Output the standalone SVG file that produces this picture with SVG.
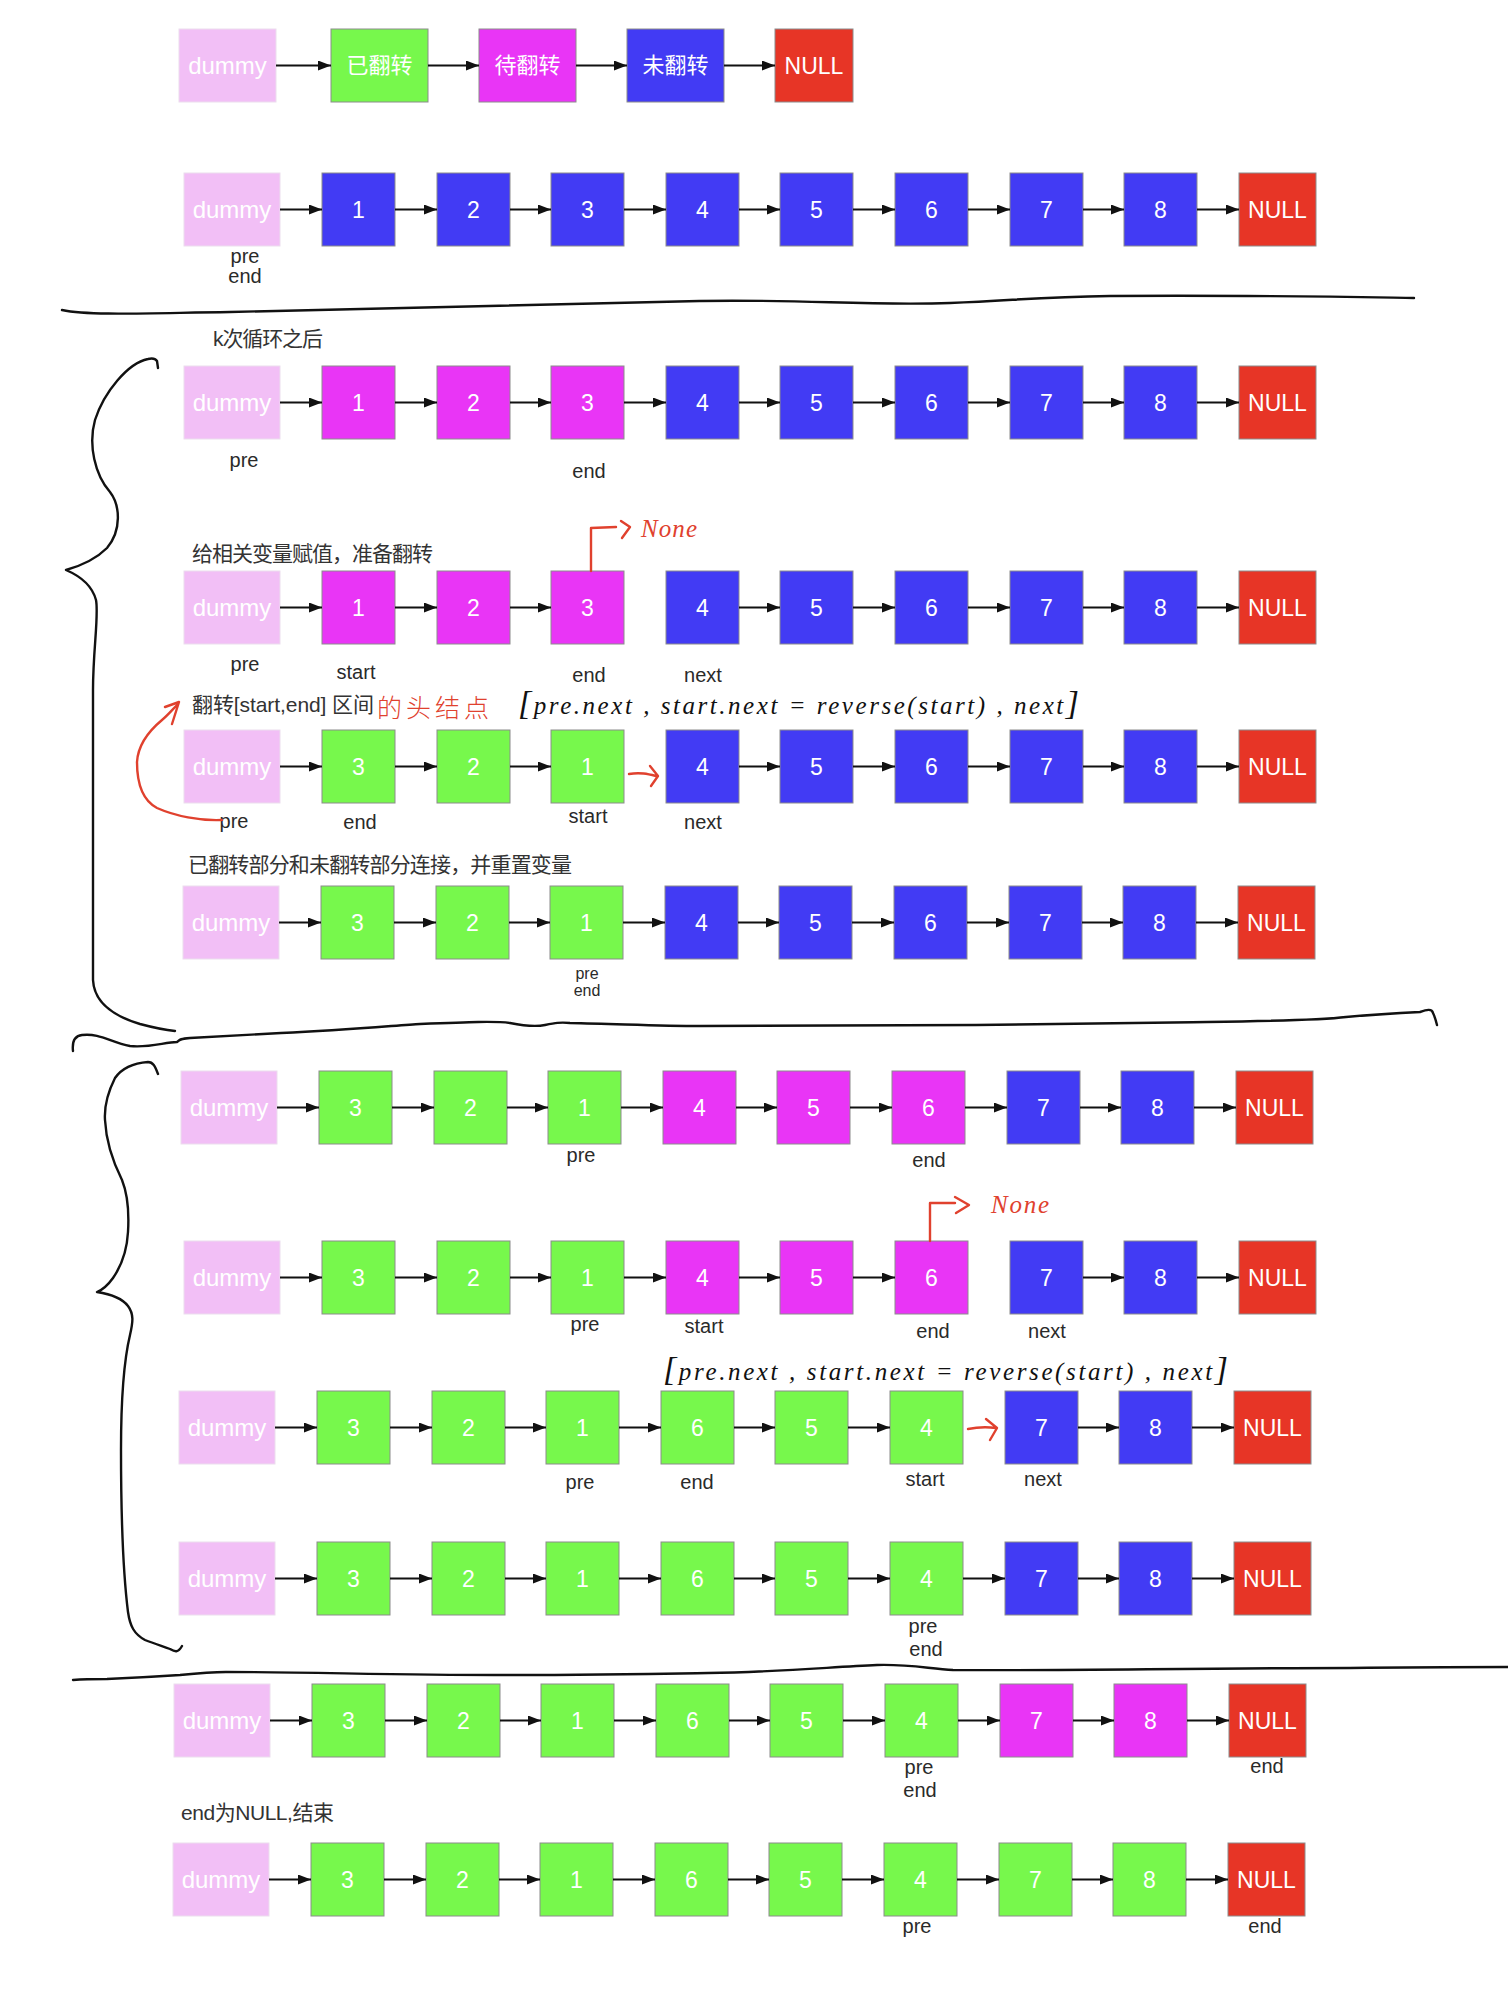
<svg xmlns="http://www.w3.org/2000/svg" width="1508" height="2016" viewBox="0 0 1508 2016">
<defs>
<marker id="ah" markerWidth="13" markerHeight="10" refX="13" refY="5" orient="auto" markerUnits="userSpaceOnUse"><path d="M0,0 L13,5 L0,10 z" fill="#111"/></marker>
<style>
rect{stroke:#8c8c8c;stroke-width:1}
.d{fill:#F2BFF6;stroke:#ECDDEE}
.g{fill:#77F84C}
.m{fill:#E935F6}
.b{fill:#423BF4}
.r{fill:#E73526}
.t{fill:#fff;font-family:"Liberation Sans",Arial,sans-serif;font-size:23px;text-anchor:middle}
.dt{fill:#fff;font-family:"Liberation Sans",Arial,sans-serif;font-size:24px;text-anchor:middle}
.lg{fill:#fff;font-family:"Liberation Sans","Noto Sans CJK SC",sans-serif;font-size:22px;text-anchor:middle}
.lb{fill:#2a2a2a;font-family:"Liberation Sans",Arial,sans-serif;font-size:20px;text-anchor:middle}
.sm{font-size:16px}
.cap{fill:#333;font-family:"Liberation Sans","Noto Sans CJK SC",sans-serif;font-size:21px}
.c{stroke:#111;stroke-width:2;marker-end:url(#ah)}
.hw{fill:none;stroke:#111;stroke-width:2.4;stroke-linecap:round;stroke-linejoin:round}
.rd{fill:none;stroke:#E0412E;stroke-width:2.4;stroke-linecap:round;stroke-linejoin:round}
.fx{fill:#111;font-family:"Liberation Serif",serif;font-style:italic;font-size:25px}
.rt{fill:#E0412E;font-family:"Liberation Serif",serif;font-style:italic;font-size:25px}
.rc{fill:#E0412E;font-family:"Noto Sans CJK SC",sans-serif;font-weight:300;font-size:25px}
</style>
</defs>

<!-- legend -->
<g id="legend">
<g id="lg-dummy"><rect class="d" x="179" y="29" width="97" height="73"/><text class="dt" x="227.5" y="74">dummy</text></g>
<g id="lg-done"><rect class="g" x="331" y="29" width="97" height="73"/><text class="lg" x="379.5" y="73">已翻转</text></g>
<g id="lg-todo"><rect class="m" x="479" y="29" width="97" height="73"/><text class="lg" x="527.5" y="73">待翻转</text></g>
<g id="lg-not"><rect class="b" x="627" y="29" width="97" height="73"/><text class="lg" x="675.5" y="73">未翻转</text></g>
<g id="lg-null"><rect class="r" x="775" y="29" width="78" height="73"/><text class="t" x="814" y="74">NULL</text></g>
</g>

<!-- rows of nodes -->
<g id="row1" transform="translate(0,173)">
<g id="r1-d"><rect class="d" x="184" y="0" width="96" height="73"/><text class="dt" x="232" y="45">dummy</text></g>
<g id="r1-1"><rect class="b" x="322" y="0" width="73" height="73"/><text class="t" x="358.5" y="45">1</text></g>
<g id="r1-2"><rect class="b" x="437" y="0" width="73" height="73"/><text class="t" x="473.5" y="45">2</text></g>
<g id="r1-3"><rect class="b" x="551" y="0" width="73" height="73"/><text class="t" x="587.5" y="45">3</text></g>
<g id="r1-4"><rect class="b" x="666" y="0" width="73" height="73"/><text class="t" x="702.5" y="45">4</text></g>
<g id="r1-5"><rect class="b" x="780" y="0" width="73" height="73"/><text class="t" x="816.5" y="45">5</text></g>
<g id="r1-6"><rect class="b" x="895" y="0" width="73" height="73"/><text class="t" x="931.5" y="45">6</text></g>
<g id="r1-7"><rect class="b" x="1010" y="0" width="73" height="73"/><text class="t" x="1046.5" y="45">7</text></g>
<g id="r1-8"><rect class="b" x="1124" y="0" width="73" height="73"/><text class="t" x="1160.5" y="45">8</text></g>
<g id="r1-n"><rect class="r" x="1239" y="0" width="77" height="73"/><text class="t" x="1277.5" y="45">NULL</text></g>
<text class="lb" x="245" y="90">pre</text><text class="lb" x="245" y="110">end</text>
</g>

<g id="row2" transform="translate(0,366)">
<g id="r2-d"><rect class="d" x="184" y="0" width="96" height="73"/><text class="dt" x="232" y="45">dummy</text></g>
<g id="r2-1"><rect class="m" x="322" y="0" width="73" height="73"/><text class="t" x="358.5" y="45">1</text></g>
<g id="r2-2"><rect class="m" x="437" y="0" width="73" height="73"/><text class="t" x="473.5" y="45">2</text></g>
<g id="r2-3"><rect class="m" x="551" y="0" width="73" height="73"/><text class="t" x="587.5" y="45">3</text></g>
<g id="r2-4"><rect class="b" x="666" y="0" width="73" height="73"/><text class="t" x="702.5" y="45">4</text></g>
<g id="r2-5"><rect class="b" x="780" y="0" width="73" height="73"/><text class="t" x="816.5" y="45">5</text></g>
<g id="r2-6"><rect class="b" x="895" y="0" width="73" height="73"/><text class="t" x="931.5" y="45">6</text></g>
<g id="r2-7"><rect class="b" x="1010" y="0" width="73" height="73"/><text class="t" x="1046.5" y="45">7</text></g>
<g id="r2-8"><rect class="b" x="1124" y="0" width="73" height="73"/><text class="t" x="1160.5" y="45">8</text></g>
<g id="r2-n"><rect class="r" x="1239" y="0" width="77" height="73"/><text class="t" x="1277.5" y="45">NULL</text></g>
<text class="lb" x="244" y="101">pre</text><text class="lb" x="589" y="112">end</text>
</g>

<g id="row3" transform="translate(0,571)">
<g id="r3-d"><rect class="d" x="184" y="0" width="96" height="73"/><text class="dt" x="232" y="45">dummy</text></g>
<g id="r3-1"><rect class="m" x="322" y="0" width="73" height="73"/><text class="t" x="358.5" y="45">1</text></g>
<g id="r3-2"><rect class="m" x="437" y="0" width="73" height="73"/><text class="t" x="473.5" y="45">2</text></g>
<g id="r3-3"><rect class="m" x="551" y="0" width="73" height="73"/><text class="t" x="587.5" y="45">3</text></g>
<g id="r3-4"><rect class="b" x="666" y="0" width="73" height="73"/><text class="t" x="702.5" y="45">4</text></g>
<g id="r3-5"><rect class="b" x="780" y="0" width="73" height="73"/><text class="t" x="816.5" y="45">5</text></g>
<g id="r3-6"><rect class="b" x="895" y="0" width="73" height="73"/><text class="t" x="931.5" y="45">6</text></g>
<g id="r3-7"><rect class="b" x="1010" y="0" width="73" height="73"/><text class="t" x="1046.5" y="45">7</text></g>
<g id="r3-8"><rect class="b" x="1124" y="0" width="73" height="73"/><text class="t" x="1160.5" y="45">8</text></g>
<g id="r3-n"><rect class="r" x="1239" y="0" width="77" height="73"/><text class="t" x="1277.5" y="45">NULL</text></g>
<text class="lb" x="245" y="100">pre</text><text class="lb" x="356" y="108">start</text><text class="lb" x="589" y="111">end</text><text class="lb" x="703" y="111">next</text>
</g>

<g id="row4" transform="translate(0,730)">
<g id="r4-d"><rect class="d" x="184" y="0" width="96" height="73"/><text class="dt" x="232" y="45">dummy</text></g>
<g id="r4-3"><rect class="g" x="322" y="0" width="73" height="73"/><text class="t" x="358.5" y="45">3</text></g>
<g id="r4-2"><rect class="g" x="437" y="0" width="73" height="73"/><text class="t" x="473.5" y="45">2</text></g>
<g id="r4-1"><rect class="g" x="551" y="0" width="73" height="73"/><text class="t" x="587.5" y="45">1</text></g>
<g id="r4-4"><rect class="b" x="666" y="0" width="73" height="73"/><text class="t" x="702.5" y="45">4</text></g>
<g id="r4-5"><rect class="b" x="780" y="0" width="73" height="73"/><text class="t" x="816.5" y="45">5</text></g>
<g id="r4-6"><rect class="b" x="895" y="0" width="73" height="73"/><text class="t" x="931.5" y="45">6</text></g>
<g id="r4-7"><rect class="b" x="1010" y="0" width="73" height="73"/><text class="t" x="1046.5" y="45">7</text></g>
<g id="r4-8"><rect class="b" x="1124" y="0" width="73" height="73"/><text class="t" x="1160.5" y="45">8</text></g>
<g id="r4-n"><rect class="r" x="1239" y="0" width="77" height="73"/><text class="t" x="1277.5" y="45">NULL</text></g>
<text class="lb" x="234" y="98">pre</text><text class="lb" x="360" y="99">end</text><text class="lb" x="588" y="93">start</text><text class="lb" x="703" y="99">next</text>
</g>

<g id="row5" transform="translate(-1,886)">
<g id="r5-d"><rect class="d" x="184" y="0" width="96" height="73"/><text class="dt" x="232" y="45">dummy</text></g>
<g id="r5-3"><rect class="g" x="322" y="0" width="73" height="73"/><text class="t" x="358.5" y="45">3</text></g>
<g id="r5-2"><rect class="g" x="437" y="0" width="73" height="73"/><text class="t" x="473.5" y="45">2</text></g>
<g id="r5-1"><rect class="g" x="551" y="0" width="73" height="73"/><text class="t" x="587.5" y="45">1</text></g>
<g id="r5-4"><rect class="b" x="666" y="0" width="73" height="73"/><text class="t" x="702.5" y="45">4</text></g>
<g id="r5-5"><rect class="b" x="780" y="0" width="73" height="73"/><text class="t" x="816.5" y="45">5</text></g>
<g id="r5-6"><rect class="b" x="895" y="0" width="73" height="73"/><text class="t" x="931.5" y="45">6</text></g>
<g id="r5-7"><rect class="b" x="1010" y="0" width="73" height="73"/><text class="t" x="1046.5" y="45">7</text></g>
<g id="r5-8"><rect class="b" x="1124" y="0" width="73" height="73"/><text class="t" x="1160.5" y="45">8</text></g>
<g id="r5-n"><rect class="r" x="1239" y="0" width="77" height="73"/><text class="t" x="1277.5" y="45">NULL</text></g>
<text class="lb sm" x="588" y="93">pre</text><text class="lb sm" x="588" y="110">end</text>
</g>

<g id="row6" transform="translate(-3,1071)">
<g id="r6-d"><rect class="d" x="184" y="0" width="96" height="73"/><text class="dt" x="232" y="45">dummy</text></g>
<g id="r6-3"><rect class="g" x="322" y="0" width="73" height="73"/><text class="t" x="358.5" y="45">3</text></g>
<g id="r6-2"><rect class="g" x="437" y="0" width="73" height="73"/><text class="t" x="473.5" y="45">2</text></g>
<g id="r6-1"><rect class="g" x="551" y="0" width="73" height="73"/><text class="t" x="587.5" y="45">1</text></g>
<g id="r6-4"><rect class="m" x="666" y="0" width="73" height="73"/><text class="t" x="702.5" y="45">4</text></g>
<g id="r6-5"><rect class="m" x="780" y="0" width="73" height="73"/><text class="t" x="816.5" y="45">5</text></g>
<g id="r6-6"><rect class="m" x="895" y="0" width="73" height="73"/><text class="t" x="931.5" y="45">6</text></g>
<g id="r6-7"><rect class="b" x="1010" y="0" width="73" height="73"/><text class="t" x="1046.5" y="45">7</text></g>
<g id="r6-8"><rect class="b" x="1124" y="0" width="73" height="73"/><text class="t" x="1160.5" y="45">8</text></g>
<g id="r6-n"><rect class="r" x="1239" y="0" width="77" height="73"/><text class="t" x="1277.5" y="45">NULL</text></g>
<text class="lb" x="584" y="91">pre</text><text class="lb" x="932" y="96">end</text>
</g>

<g id="row7" transform="translate(0,1241)">
<g id="r7-d"><rect class="d" x="184" y="0" width="96" height="73"/><text class="dt" x="232" y="45">dummy</text></g>
<g id="r7-3"><rect class="g" x="322" y="0" width="73" height="73"/><text class="t" x="358.5" y="45">3</text></g>
<g id="r7-2"><rect class="g" x="437" y="0" width="73" height="73"/><text class="t" x="473.5" y="45">2</text></g>
<g id="r7-1"><rect class="g" x="551" y="0" width="73" height="73"/><text class="t" x="587.5" y="45">1</text></g>
<g id="r7-4"><rect class="m" x="666" y="0" width="73" height="73"/><text class="t" x="702.5" y="45">4</text></g>
<g id="r7-5"><rect class="m" x="780" y="0" width="73" height="73"/><text class="t" x="816.5" y="45">5</text></g>
<g id="r7-6"><rect class="m" x="895" y="0" width="73" height="73"/><text class="t" x="931.5" y="45">6</text></g>
<g id="r7-7"><rect class="b" x="1010" y="0" width="73" height="73"/><text class="t" x="1046.5" y="45">7</text></g>
<g id="r7-8"><rect class="b" x="1124" y="0" width="73" height="73"/><text class="t" x="1160.5" y="45">8</text></g>
<g id="r7-n"><rect class="r" x="1239" y="0" width="77" height="73"/><text class="t" x="1277.5" y="45">NULL</text></g>
<text class="lb" x="585" y="90">pre</text><text class="lb" x="704" y="92">start</text><text class="lb" x="933" y="97">end</text><text class="lb" x="1047" y="97">next</text>
</g>

<g id="row8" transform="translate(-5,1391)">
<g id="r8-d"><rect class="d" x="184" y="0" width="96" height="73"/><text class="dt" x="232" y="45">dummy</text></g>
<g id="r8-3"><rect class="g" x="322" y="0" width="73" height="73"/><text class="t" x="358.5" y="45">3</text></g>
<g id="r8-2"><rect class="g" x="437" y="0" width="73" height="73"/><text class="t" x="473.5" y="45">2</text></g>
<g id="r8-1"><rect class="g" x="551" y="0" width="73" height="73"/><text class="t" x="587.5" y="45">1</text></g>
<g id="r8-6"><rect class="g" x="666" y="0" width="73" height="73"/><text class="t" x="702.5" y="45">6</text></g>
<g id="r8-5"><rect class="g" x="780" y="0" width="73" height="73"/><text class="t" x="816.5" y="45">5</text></g>
<g id="r8-4"><rect class="g" x="895" y="0" width="73" height="73"/><text class="t" x="931.5" y="45">4</text></g>
<g id="r8-7"><rect class="b" x="1010" y="0" width="73" height="73"/><text class="t" x="1046.5" y="45">7</text></g>
<g id="r8-8"><rect class="b" x="1124" y="0" width="73" height="73"/><text class="t" x="1160.5" y="45">8</text></g>
<g id="r8-n"><rect class="r" x="1239" y="0" width="77" height="73"/><text class="t" x="1277.5" y="45">NULL</text></g>
<text class="lb" x="585" y="98">pre</text><text class="lb" x="702" y="98">end</text><text class="lb" x="930" y="95">start</text><text class="lb" x="1048" y="95">next</text>
</g>

<g id="row9" transform="translate(-5,1542)">
<g id="r9-d"><rect class="d" x="184" y="0" width="96" height="73"/><text class="dt" x="232" y="45">dummy</text></g>
<g id="r9-3"><rect class="g" x="322" y="0" width="73" height="73"/><text class="t" x="358.5" y="45">3</text></g>
<g id="r9-2"><rect class="g" x="437" y="0" width="73" height="73"/><text class="t" x="473.5" y="45">2</text></g>
<g id="r9-1"><rect class="g" x="551" y="0" width="73" height="73"/><text class="t" x="587.5" y="45">1</text></g>
<g id="r9-6"><rect class="g" x="666" y="0" width="73" height="73"/><text class="t" x="702.5" y="45">6</text></g>
<g id="r9-5"><rect class="g" x="780" y="0" width="73" height="73"/><text class="t" x="816.5" y="45">5</text></g>
<g id="r9-4"><rect class="g" x="895" y="0" width="73" height="73"/><text class="t" x="931.5" y="45">4</text></g>
<g id="r9-7"><rect class="b" x="1010" y="0" width="73" height="73"/><text class="t" x="1046.5" y="45">7</text></g>
<g id="r9-8"><rect class="b" x="1124" y="0" width="73" height="73"/><text class="t" x="1160.5" y="45">8</text></g>
<g id="r9-n"><rect class="r" x="1239" y="0" width="77" height="73"/><text class="t" x="1277.5" y="45">NULL</text></g>
<text class="lb" x="928" y="91">pre</text><text class="lb" x="931" y="114">end</text>
</g>

<g id="row10" transform="translate(-10,1684)">
<g id="r10-d"><rect class="d" x="184" y="0" width="96" height="73"/><text class="dt" x="232" y="45">dummy</text></g>
<g id="r10-3"><rect class="g" x="322" y="0" width="73" height="73"/><text class="t" x="358.5" y="45">3</text></g>
<g id="r10-2"><rect class="g" x="437" y="0" width="73" height="73"/><text class="t" x="473.5" y="45">2</text></g>
<g id="r10-1"><rect class="g" x="551" y="0" width="73" height="73"/><text class="t" x="587.5" y="45">1</text></g>
<g id="r10-6"><rect class="g" x="666" y="0" width="73" height="73"/><text class="t" x="702.5" y="45">6</text></g>
<g id="r10-5"><rect class="g" x="780" y="0" width="73" height="73"/><text class="t" x="816.5" y="45">5</text></g>
<g id="r10-4"><rect class="g" x="895" y="0" width="73" height="73"/><text class="t" x="931.5" y="45">4</text></g>
<g id="r10-7"><rect class="m" x="1010" y="0" width="73" height="73"/><text class="t" x="1046.5" y="45">7</text></g>
<g id="r10-8"><rect class="m" x="1124" y="0" width="73" height="73"/><text class="t" x="1160.5" y="45">8</text></g>
<g id="r10-n"><rect class="r" x="1239" y="0" width="77" height="73"/><text class="t" x="1277.5" y="45">NULL</text></g>
<text class="lb" x="929" y="90">pre</text><text class="lb" x="930" y="113">end</text><text class="lb" x="1277" y="89">end</text>
</g>

<g id="row11" transform="translate(-11,1843)">
<g id="r11-d"><rect class="d" x="184" y="0" width="96" height="73"/><text class="dt" x="232" y="45">dummy</text></g>
<g id="r11-3"><rect class="g" x="322" y="0" width="73" height="73"/><text class="t" x="358.5" y="45">3</text></g>
<g id="r11-2"><rect class="g" x="437" y="0" width="73" height="73"/><text class="t" x="473.5" y="45">2</text></g>
<g id="r11-1"><rect class="g" x="551" y="0" width="73" height="73"/><text class="t" x="587.5" y="45">1</text></g>
<g id="r11-6"><rect class="g" x="666" y="0" width="73" height="73"/><text class="t" x="702.5" y="45">6</text></g>
<g id="r11-5"><rect class="g" x="780" y="0" width="73" height="73"/><text class="t" x="816.5" y="45">5</text></g>
<g id="r11-4"><rect class="g" x="895" y="0" width="73" height="73"/><text class="t" x="931.5" y="45">4</text></g>
<g id="r11-7"><rect class="g" x="1010" y="0" width="73" height="73"/><text class="t" x="1046.5" y="45">7</text></g>
<g id="r11-8"><rect class="g" x="1124" y="0" width="73" height="73"/><text class="t" x="1160.5" y="45">8</text></g>
<g id="r11-n"><rect class="r" x="1239" y="0" width="77" height="73"/><text class="t" x="1277.5" y="45">NULL</text></g>
<text class="lb" x="928" y="90">pre</text><text class="lb" x="1276" y="90">end</text>
</g>

<!-- connectors -->
<g id="connectors">
<g id="c-legend">
<line class="c" x1="276" y1="65.5" x2="331" y2="65.5"/><line class="c" x1="428" y1="65.5" x2="479" y2="65.5"/><line class="c" x1="576" y1="65.5" x2="627" y2="65.5"/><line class="c" x1="724" y1="65.5" x2="775" y2="65.5"/>
</g>
<g id="c-row1" transform="translate(0,173)">
<line class="c" x1="280" y1="36.5" x2="322" y2="36.5"/><line class="c" x1="395" y1="36.5" x2="437" y2="36.5"/><line class="c" x1="510" y1="36.5" x2="551" y2="36.5"/><line class="c" x1="624" y1="36.5" x2="666" y2="36.5"/><line class="c" x1="739" y1="36.5" x2="780" y2="36.5"/><line class="c" x1="853" y1="36.5" x2="895" y2="36.5"/><line class="c" x1="968" y1="36.5" x2="1010" y2="36.5"/><line class="c" x1="1083" y1="36.5" x2="1124" y2="36.5"/><line class="c" x1="1197" y1="36.5" x2="1239" y2="36.5"/>
</g>
<g id="c-row2" transform="translate(0,366)">
<line class="c" x1="280" y1="36.5" x2="322" y2="36.5"/><line class="c" x1="395" y1="36.5" x2="437" y2="36.5"/><line class="c" x1="510" y1="36.5" x2="551" y2="36.5"/><line class="c" x1="624" y1="36.5" x2="666" y2="36.5"/><line class="c" x1="739" y1="36.5" x2="780" y2="36.5"/><line class="c" x1="853" y1="36.5" x2="895" y2="36.5"/><line class="c" x1="968" y1="36.5" x2="1010" y2="36.5"/><line class="c" x1="1083" y1="36.5" x2="1124" y2="36.5"/><line class="c" x1="1197" y1="36.5" x2="1239" y2="36.5"/>
</g>
<g id="c-row3" transform="translate(0,571)">
<line class="c" x1="280" y1="36.5" x2="322" y2="36.5"/><line class="c" x1="395" y1="36.5" x2="437" y2="36.5"/><line class="c" x1="510" y1="36.5" x2="551" y2="36.5"/><line class="c" x1="739" y1="36.5" x2="780" y2="36.5"/><line class="c" x1="853" y1="36.5" x2="895" y2="36.5"/><line class="c" x1="968" y1="36.5" x2="1010" y2="36.5"/><line class="c" x1="1083" y1="36.5" x2="1124" y2="36.5"/><line class="c" x1="1197" y1="36.5" x2="1239" y2="36.5"/>
</g>
<g id="c-row4" transform="translate(0,730)">
<line class="c" x1="280" y1="36.5" x2="322" y2="36.5"/><line class="c" x1="395" y1="36.5" x2="437" y2="36.5"/><line class="c" x1="510" y1="36.5" x2="551" y2="36.5"/><line class="c" x1="739" y1="36.5" x2="780" y2="36.5"/><line class="c" x1="853" y1="36.5" x2="895" y2="36.5"/><line class="c" x1="968" y1="36.5" x2="1010" y2="36.5"/><line class="c" x1="1083" y1="36.5" x2="1124" y2="36.5"/><line class="c" x1="1197" y1="36.5" x2="1239" y2="36.5"/>
</g>
<g id="c-row5" transform="translate(-1,886)">
<line class="c" x1="280" y1="36.5" x2="322" y2="36.5"/><line class="c" x1="395" y1="36.5" x2="437" y2="36.5"/><line class="c" x1="510" y1="36.5" x2="551" y2="36.5"/><line class="c" x1="624" y1="36.5" x2="666" y2="36.5"/><line class="c" x1="739" y1="36.5" x2="780" y2="36.5"/><line class="c" x1="853" y1="36.5" x2="895" y2="36.5"/><line class="c" x1="968" y1="36.5" x2="1010" y2="36.5"/><line class="c" x1="1083" y1="36.5" x2="1124" y2="36.5"/><line class="c" x1="1197" y1="36.5" x2="1239" y2="36.5"/>
</g>
<g id="c-row6" transform="translate(-3,1071)">
<line class="c" x1="280" y1="36.5" x2="322" y2="36.5"/><line class="c" x1="395" y1="36.5" x2="437" y2="36.5"/><line class="c" x1="510" y1="36.5" x2="551" y2="36.5"/><line class="c" x1="624" y1="36.5" x2="666" y2="36.5"/><line class="c" x1="739" y1="36.5" x2="780" y2="36.5"/><line class="c" x1="853" y1="36.5" x2="895" y2="36.5"/><line class="c" x1="968" y1="36.5" x2="1010" y2="36.5"/><line class="c" x1="1083" y1="36.5" x2="1124" y2="36.5"/><line class="c" x1="1197" y1="36.5" x2="1239" y2="36.5"/>
</g>
<g id="c-row7" transform="translate(0,1241)">
<line class="c" x1="280" y1="36.5" x2="322" y2="36.5"/><line class="c" x1="395" y1="36.5" x2="437" y2="36.5"/><line class="c" x1="510" y1="36.5" x2="551" y2="36.5"/><line class="c" x1="624" y1="36.5" x2="666" y2="36.5"/><line class="c" x1="739" y1="36.5" x2="780" y2="36.5"/><line class="c" x1="853" y1="36.5" x2="895" y2="36.5"/><line class="c" x1="1083" y1="36.5" x2="1124" y2="36.5"/><line class="c" x1="1197" y1="36.5" x2="1239" y2="36.5"/>
</g>
<g id="c-row8" transform="translate(-5,1391)">
<line class="c" x1="280" y1="36.5" x2="322" y2="36.5"/><line class="c" x1="395" y1="36.5" x2="437" y2="36.5"/><line class="c" x1="510" y1="36.5" x2="551" y2="36.5"/><line class="c" x1="624" y1="36.5" x2="666" y2="36.5"/><line class="c" x1="739" y1="36.5" x2="780" y2="36.5"/><line class="c" x1="853" y1="36.5" x2="895" y2="36.5"/><line class="c" x1="1083" y1="36.5" x2="1124" y2="36.5"/><line class="c" x1="1197" y1="36.5" x2="1239" y2="36.5"/>
</g>
<g id="c-row9" transform="translate(-5,1542)">
<line class="c" x1="280" y1="36.5" x2="322" y2="36.5"/><line class="c" x1="395" y1="36.5" x2="437" y2="36.5"/><line class="c" x1="510" y1="36.5" x2="551" y2="36.5"/><line class="c" x1="624" y1="36.5" x2="666" y2="36.5"/><line class="c" x1="739" y1="36.5" x2="780" y2="36.5"/><line class="c" x1="853" y1="36.5" x2="895" y2="36.5"/><line class="c" x1="968" y1="36.5" x2="1010" y2="36.5"/><line class="c" x1="1083" y1="36.5" x2="1124" y2="36.5"/><line class="c" x1="1197" y1="36.5" x2="1239" y2="36.5"/>
</g>
<g id="c-row10" transform="translate(-10,1684)">
<line class="c" x1="280" y1="36.5" x2="322" y2="36.5"/><line class="c" x1="395" y1="36.5" x2="437" y2="36.5"/><line class="c" x1="510" y1="36.5" x2="551" y2="36.5"/><line class="c" x1="624" y1="36.5" x2="666" y2="36.5"/><line class="c" x1="739" y1="36.5" x2="780" y2="36.5"/><line class="c" x1="853" y1="36.5" x2="895" y2="36.5"/><line class="c" x1="968" y1="36.5" x2="1010" y2="36.5"/><line class="c" x1="1083" y1="36.5" x2="1124" y2="36.5"/><line class="c" x1="1197" y1="36.5" x2="1239" y2="36.5"/>
</g>
<g id="c-row11" transform="translate(-11,1843)">
<line class="c" x1="280" y1="36.5" x2="322" y2="36.5"/><line class="c" x1="395" y1="36.5" x2="437" y2="36.5"/><line class="c" x1="510" y1="36.5" x2="551" y2="36.5"/><line class="c" x1="624" y1="36.5" x2="666" y2="36.5"/><line class="c" x1="739" y1="36.5" x2="780" y2="36.5"/><line class="c" x1="853" y1="36.5" x2="895" y2="36.5"/><line class="c" x1="968" y1="36.5" x2="1010" y2="36.5"/><line class="c" x1="1083" y1="36.5" x2="1124" y2="36.5"/><line class="c" x1="1197" y1="36.5" x2="1239" y2="36.5"/>
</g>
</g>

<!-- captions -->
<g id="captions">
<text class="cap" x="213" y="346" textLength="110">k次循环之后</text>
<text class="cap" x="192" y="561" textLength="241">给相关变量赋值，准备翻转</text>
<text class="cap" x="192" y="712" textLength="182">翻转[start,end] 区间</text>
<text class="cap" x="188" y="872" textLength="384">已翻转部分和未翻转部分连接，并重置变量</text>
<text class="cap" x="181" y="1820" textLength="153">end为NULL,结束</text>
</g>

<!-- hand-drawn annotations -->
<g id="annotations">
<path class="hw" d="M62,310 C90,316 150,313 230,312 C400,308 550,305 700,301 C800,299 870,306 950,303 C1020,300 1040,297 1110,296 C1250,295 1350,297 1414,298"/>
<path class="hw" d="M158,368 L157,361 C155,358 152,358 148,359 C128,363 104,392 95,420 C88,445 95,475 110,492 C120,505 122,530 107,548 C95,560 80,566 66,570 C80,576 92,585 96,600 C99,615 93,650 93,690 L93,980 C94,1000 110,1015 140,1024 C155,1028 165,1030 175,1031"/>
<path class="hw" d="M73,1051 C72,1042 74,1036 82,1035 C100,1033 110,1042 130,1046 C150,1048 165,1042 177,1042 C180,1040 178,1039 190,1038 C230,1036 260,1034 281,1033 C350,1030 400,1025 420,1024 C470,1022 495,1021 510,1023 C525,1026 535,1027 545,1025 C555,1023 560,1022 570,1023 C620,1024 660,1026 700,1026 C800,1026 900,1025 976,1025 C1100,1024 1150,1023 1207,1022 C1280,1021 1330,1019 1346,1017 C1380,1014 1400,1013 1420,1012 C1426,1010 1432,1008 1433,1013 C1435,1017 1436,1021 1437,1025"/>
<path class="hw" d="M158,1074 C155,1066 153,1062 148,1062 C135,1063 122,1068 115,1078 C108,1092 104,1105 105,1120 C106,1140 112,1160 122,1180 C128,1195 129,1215 128,1232 C127,1250 122,1265 113,1278 C108,1285 102,1290 97,1292 C110,1294 122,1298 128,1306 C134,1314 133,1322 130,1335 C124,1360 121,1400 121,1450 C121,1520 124,1580 128,1612 C130,1626 134,1634 145,1640 C155,1644 162,1646 170,1649 C175,1652 178,1653 182,1646"/>
<path class="hw" d="M73,1680 C85,1679 95,1679 107,1679 C130,1678 150,1677 180,1675 C200,1673 215,1672 226,1672 C300,1672 400,1675 494,1675 C600,1675 650,1674 708,1673 C780,1672 830,1667 877,1665 C910,1664 930,1669 953,1670 C1050,1671 1200,1668 1350,1668 C1420,1667 1470,1667 1508,1667"/>

<path class="rd" d="M591,571 L591,528 L616,527 M621,521 L630,527 L622,538"/>
<text class="rt" x="641" y="537" textLength="56">None</text>
<path class="rd" d="M930,1241 L930,1203 L955,1203 M955,1197 L969,1205 L956,1213"/>
<text class="rt" x="991" y="1213" textLength="58">None</text>

<path class="rd" d="M222,820 C200,821 175,816 157,808 C142,800 137,782 137,762 C138,745 150,730 162,720 C168,715 173,709 178,704 M165,707 L179,702 L172,724"/>
<path class="rd" d="M629,774 C640,772 648,774 656,776 M650,766 L658,776 L651,786"/>
<path class="rd" d="M968,1429 C978,1427 988,1427 996,1428 M986,1419 L997,1428 L990,1440"/>

<text class="rc" x="377" y="717" textLength="112">的头结点</text>
<text class="fx" x="518" y="714" textLength="561"><tspan font-size="34">[</tspan>pre.next , start.next  =  reverse(start) , next<tspan font-size="34">]</tspan></text>
<text class="fx" x="663" y="1380" textLength="565"><tspan font-size="34">[</tspan>pre.next , start.next  =  reverse(start) , next<tspan font-size="34">]</tspan></text>
</g>
</svg>
